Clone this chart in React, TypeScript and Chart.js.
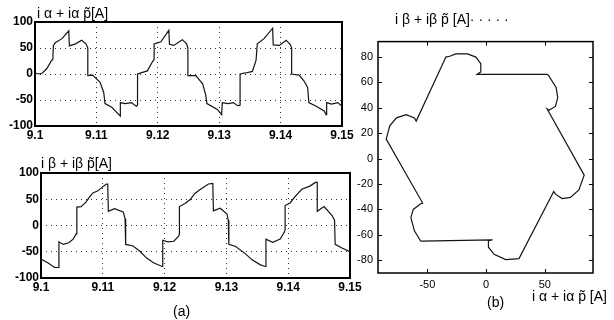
import React, { useEffect, useRef } from "react";
import { Chart, registerables } from "chart.js";
Chart.register(...registerables);

// ---------- data ----------
const timeTicks = [9.1, 9.11, 9.12, 9.13, 9.14, 9.15];
const timeTickLabels = ["9.1", "9.11", "9.12", "9.13", "9.14", "9.15"];
const currentTicks = [-100, -50, 0, 50, 100];

const alphaTime = [
  9.1, 9.1006, 9.1012, 9.1019, 9.1027, 9.1029, 9.103, 9.1033, 9.1044, 9.1055, 9.1056, 9.1066, 9.1076, 9.1083,
  9.1086, 9.1086, 9.1094, 9.1106, 9.1112, 9.1114, 9.1125, 9.1139, 9.1139, 9.1147, 9.1157, 9.1165, 9.1167,
  9.1167, 9.1175, 9.1183, 9.1191, 9.1194, 9.1194, 9.1205, 9.1218, 9.1219, 9.1226, 9.124, 9.1247, 9.1249,
  9.1249, 9.1262, 9.1273, 9.1278, 9.128, 9.1297, 9.1304, 9.1305, 9.1315, 9.1323, 9.133, 9.1334, 9.1334,
  9.1343, 9.1354, 9.136, 9.1362, 9.1373, 9.1387, 9.1388, 9.1398, 9.1409, 9.1416, 9.1418, 9.1418, 9.143,
  9.1438, 9.1444, 9.1446, 9.1458, 9.1471, 9.1474, 9.1475, 9.1483, 9.1493, 9.15,
];
const alphaCurrent = [
  2, 0, 2, 10, 26, 28, 55, 60, 68, 83, 54, 58, 65, 58,
  50, -3, -2, -16, -36, -57, -64, -81, -55, -57, -55, -62, -60,
  0, 3, 6, 23, 28, 58, 62, 84, 57, 55, 66, 58, 50,
  -3, -3, -19, -40, -57, -68, -78, -55, -57, -55, -61, -60, 0,
  2, 5, 26, 58, 68, 88, 56, 55, 65, 56, 50, 0, -2,
  -13, -26, -55, -62, -71, -78, -55, -58, -55, -62,
];

const betaTime = [
  9.1, 9.1011, 9.1022, 9.1029, 9.1029, 9.1036, 9.1045, 9.1052, 9.1057, 9.1058, 9.1058, 9.1065, 9.1073, 9.1079,
  9.1084, 9.1092, 9.11, 9.1106, 9.1108, 9.1109, 9.1119, 9.1133, 9.1136, 9.1137, 9.1137, 9.1149, 9.116,
  9.1171, 9.1182, 9.1196, 9.1197, 9.1197, 9.1205, 9.1215, 9.1223, 9.1224, 9.1224, 9.1233, 9.1241, 9.1249,
  9.1257, 9.1271, 9.1278, 9.1279, 9.129, 9.1301, 9.1303, 9.1304, 9.1315, 9.1331, 9.1341, 9.1355, 9.1363,
  9.1364, 9.1364, 9.1375, 9.1387, 9.1394, 9.1395, 9.1395, 9.1403, 9.1411, 9.1422, 9.1435, 9.1444, 9.1447,
  9.1447, 9.1458, 9.1471, 9.1475, 9.1476, 9.1487, 9.15,
];
const betaCurrent = [
  -64, -71, -80, -80, -31, -36, -33, -26, -16, -14, 35, 36, 45, 55,
  62, 66, 74, 79, 79, 27, 32, 26, 13, 8, -36, -39, -49,
  -62, -71, -78, -78, -28, -31, -30, -20, -16, 36, 42, 49, 61,
  68, 79, 80, 28, 33, 22, 10, -36, -40, -54, -65, -75, -78,
  -78, -26, -32, -26, -12, -8, 38, 43, 55, 69, 75, 82, 82,
  27, 36, 19, 10, -36, -43, -50,
];

const orbitXTicks = [-50, 0, 50];
const orbitYTicks = [-80, -60, -40, -20, 0, 20, 40, 60, 80];
const orbitAlpha = [
  -55.6, 5.4, 2, 2, 6.8, 16.7, 28, 57.6, 59, 64.7, 71.8, 79, 83.5, 52, 53.4, 59, 61, 59.6, 53.4, 52, -7.6,
  -4.5, -4.5, -8.7, -15.8, -25.7, -31, -34.2, -59.5, -61, -68, -76.3, -82, -85, -54, -56, -62, -64, -61, -55.6,
];
const orbitBeta = [
  -65, -64, -64.5, -69.7, -75.3, -79.4, -78.7, -25.9, -28, -31.5, -30.5, -24.6, -13, 39, 38, 41, 48, 56, 65, 66.3,
  66.3, 68.2, 74.6, 79.8, 82.3, 82.3, 80.5, 79.8, 29.5, 32, 34.6, 32, 25.7, 15.3, -35, -35.7, -40, -46.5, -56.8, -65,
];

// ---------- helpers ----------
const framePlugin = (lineWidth: number, innerTicks: boolean) => ({
  id: "frame",
  afterDraw(chart: any) {
    const { ctx, chartArea: a, scales } = chart;
    ctx.save();
    ctx.strokeStyle = "#000";
    if (innerTicks) {
      ctx.lineWidth = 1;
      const xs = scales.x;
      const ys = scales.y;
      ctx.beginPath();
      xs.ticks.forEach((t: any) => {
        const p = Math.round(xs.getPixelForValue(t.value)) + 0.5;
        ctx.moveTo(p, a.bottom);
        ctx.lineTo(p, a.bottom - 4);
        ctx.moveTo(p, a.top);
        ctx.lineTo(p, a.top + 4);
      });
      ys.ticks.forEach((t: any) => {
        const p = Math.round(ys.getPixelForValue(t.value)) + 0.5;
        ctx.moveTo(a.left, p);
        ctx.lineTo(a.left + 4, p);
        ctx.moveTo(a.right, p);
        ctx.lineTo(a.right - 4, p);
      });
      ctx.stroke();
    }
    ctx.lineWidth = lineWidth;
    ctx.strokeRect(a.left, a.top, a.right - a.left, a.bottom - a.top);
    ctx.restore();
  },
});

const setTicks = (vals: number[]) => (s: any) => {
  s.ticks = vals.map((v) => ({ value: v }));
};

function timeChartConfig(times: number[], values: number[], yWidth: number, xHeight: number, padTop: number) {
  return {
    type: "scatter" as const,
    data: {
      datasets: [
        {
          data: times.map((t, i) => ({ x: t, y: values[i] })),
          showLine: true,
          borderColor: "#141414",
          borderWidth: 1.2,
          pointRadius: 0,
          tension: 0,
        },
      ],
    },
    options: {
      animation: false as const,
      responsive: false,
      maintainAspectRatio: false,
      layout: { padding: { top: padTop, right: 14, left: 0, bottom: 0 } },
      plugins: { legend: { display: false }, tooltip: { enabled: false } },
      scales: {
        x: {
          type: "linear" as const,
          min: 9.1,
          max: 9.15,
          afterBuildTicks: setTicks(timeTicks),
          afterFit: (s: any) => {
            s.height = xHeight;
          },
          grid: { color: "#333", lineWidth: 1, drawTicks: false },
          border: { display: false, dash: [1, 4] },
          ticks: {
            color: "#000",
            padding: 2,
            maxRotation: 0,
            autoSkip: false,
            font: { family: "Liberation Sans, Arial, sans-serif", size: 12, weight: "bold" as const },
            callback: (_v: any, i: number) => timeTickLabels[i],
          },
        },
        y: {
          type: "linear" as const,
          min: -100,
          max: 100,
          afterBuildTicks: setTicks(currentTicks),
          afterFit: (s: any) => {
            s.width = yWidth;
          },
          grid: { color: "#333", lineWidth: 1, drawTicks: false },
          border: { display: false, dash: [1, 4] },
          ticks: {
            color: "#000",
            padding: 2,
            autoSkip: false,
            font: { family: "Liberation Sans, Arial, sans-serif", size: 12, weight: "bold" as const },
            callback: (v: any) => String(v),
          },
        },
      },
    },
    plugins: [framePlugin(2, false)],
  };
}

function orbitChartConfig() {
  return {
    type: "scatter" as const,
    data: {
      datasets: [
        {
          data: orbitAlpha.map((x, i) => ({ x, y: orbitBeta[i] })),
          showLine: true,
          borderColor: "#141414",
          borderWidth: 1.2,
          pointRadius: 0,
          tension: 0,
        },
      ],
    },
    options: {
      animation: false as const,
      responsive: false,
      maintainAspectRatio: false,
      layout: { padding: { top: 7, right: 21, left: 0, bottom: 0 } },
      plugins: { legend: { display: false }, tooltip: { enabled: false } },
      scales: {
        x: {
          type: "linear" as const,
          min: -92,
          max: 91,
          afterBuildTicks: setTicks(orbitXTicks),
          afterFit: (s: any) => {
            s.height = 20;
          },
          grid: { display: false, drawTicks: false },
          border: { display: false },
          ticks: {
            color: "#000",
            padding: 5,
            maxRotation: 0,
            autoSkip: false,
            font: { family: "Liberation Sans Narrow, Liberation Sans, sans-serif", size: 11 },
            callback: (v: any) => String(v),
          },
        },
        y: {
          type: "linear" as const,
          min: -90,
          max: 92,
          afterBuildTicks: setTicks(orbitYTicks),
          afterFit: (s: any) => {
            s.width = 38;
          },
          grid: { display: false, drawTicks: false },
          border: { display: false },
          ticks: {
            color: "#000",
            padding: 5,
            autoSkip: false,
            font: { family: "Liberation Sans Narrow, Liberation Sans, sans-serif", size: 11 },
            callback: (v: any) => String(v),
          },
        },
      },
    },
    plugins: [framePlugin(1.5, true)],
  };
}

function ChartCanvas({ config, left, top, width, height }: any) {
  const ref = useRef<HTMLCanvasElement | null>(null);
  useEffect(() => {
    if (!ref.current) return;
    const chart = new Chart(ref.current, config);
    return () => chart.destroy();
  }, []);
  return (
    <canvas
      ref={ref}
      width={width}
      height={height}
      style={{ position: "absolute", left, top, width, height }}
    />
  );
}

const labelStyle: React.CSSProperties = {
  position: "absolute",
  fontFamily: "Liberation Sans, Arial, sans-serif",
  fontSize: 14,
  lineHeight: "16px",
  color: "#000",
  whiteSpace: "nowrap",
};

export default function App() {
  return (
    <div style={{ position: "absolute", left: 0, top: 0, width: 614, height: 320, background: "#fff", overflow: "hidden" }}>
      <ChartCanvas config={timeChartConfig(alphaTime, alphaCurrent, 35, 16, 22)} left={0} top={0} width={356} height={142} />
      <ChartCanvas config={timeChartConfig(betaTime, betaCurrent, 41, 17, 23)} left={0} top={150} width={364} height={145} />
      <ChartCanvas config={orbitChartConfig()} left={340} top={30} width={274} height={263} />
      <div style={{ ...labelStyle, left: 37, top: 5 }}>i α + iα p̃[A]</div>
      <div style={{ ...labelStyle, left: 41, top: 155 }}>i β + iβ p̃[A]</div>
      <div style={{ ...labelStyle, left: 395, top: 11 }}>i β + iβ p̃ [A]· · · · ·</div>
      <div style={{ ...labelStyle, left: 532, top: 288 }}>i α + iα p̃ [A]</div>
      <div style={{ ...labelStyle, left: 487, top: 294 }}>(b)</div>
      <div style={{ ...labelStyle, left: 173, top: 303 }}>(a)</div>
    </div>
  );
}
